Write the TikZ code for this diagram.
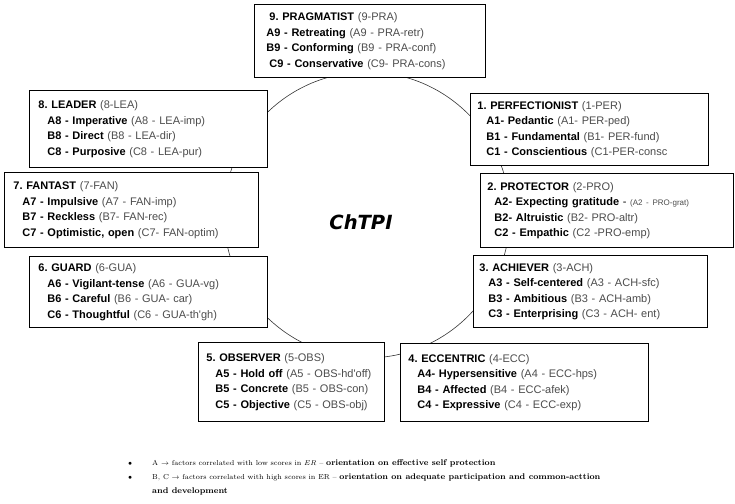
\documentclass[tikz,border=0pt]{standalone}
\usepackage{fontspec}
\newfontfamily\arialf{Liberation Sans}
\newfontfamily\logof{DejaVu Sans}
\definecolor{codegray}{gray}{0.3}
\newcommand\bxt[1]{\textbf{#1}}
\newcommand\cdt[1]{{\color{codegray}#1}}
\newcommand\ind[1]{\hspace*{#1pt}}
\newcommand\lgb[1]{{\fontsize{8.3}{14}\selectfont\bfseries #1}}
\frenchspacing
\begin{document}
\begin{tikzpicture}[x=1pt,y=-1pt,
  box/.style={draw=black, line width=0.9pt, fill=white, anchor=north west, align=left,
    inner ysep=0pt, font=\arialf\fontsize{11}{15.5}\selectfont\frenchspacing},
  ringstyle/.style={circle, draw=black!80, line width=0.6pt, inner sep=0pt},
  legend/.style={anchor=base west, inner sep=0pt, font=\fontsize{7.2}{14}\selectfont\frenchspacing},
]
\useasboundingbox (0,0) rectangle (735,503);
\node[ringstyle, minimum size=286pt] (ring) at (367,215) {};
\node[font=\logof\bfseries\itshape\fontsize{19.5}{19.5}\selectfont] (logo) at (361,222) {ChTPI};

% 9
\node[box, text width=207pt, inner xsep=12pt, minimum height=73pt] (b9) at (254,4) {%
\ind{3}\bxt{9. PRAGMATIST} \cdt{(9-PRA)}\\
\ind{0}\bxt{A9 - Retreating} \cdt{(A9 - PRA-retr)}\\
\ind{0}\bxt{B9 - Conforming} \cdt{(B9 - PRA-conf)}\\
\ind{3}\bxt{C9 - Conservative} \cdt{(C9- PRA-cons)}};
% 8
\node[box, text width=220pt, inner xsep=9pt, minimum height=77pt] (b8) at (29,90) {%
\bxt{8. LEADER} \cdt{(8-LEA)}\\
\ind{9}\bxt{A8 - Imperative} \cdt{(A8 - LEA-imp)}\\
\ind{9}\bxt{B8 - Direct} \cdt{(B8 - LEA-dir)}\\
\ind{9}\bxt{C8 - Purposive} \cdt{(C8 - LEA-pur)}};
% 1
\node[box, text width=224pt, inner xsep=7pt, minimum height=72pt] (b1) at (470,93) {%
\bxt{1. PERFECTIONIST} \cdt{(1-PER)}\\
\ind{9}\bxt{A1- Pedantic} \cdt{(A1- PER-ped)}\\
\ind{9}\bxt{B1 - Fundamental} \cdt{(B1- PER-fund)}\\
\ind{9}\bxt{C1 - Conscientious} \cdt{(C1-PER-consc}};
% 7
\node[box, text width=236pt, inner xsep=9pt, minimum height=75pt] (b7) at (4,172) {%
\bxt{7. FANTAST} \cdt{(7-FAN)}\\
\ind{9}\bxt{A7 - Impulsive} \cdt{(A7 - FAN-imp)}\\
\ind{9}\bxt{B7 - Reckless} \cdt{(B7- FAN-rec)}\\
\ind{9}\bxt{C7 - Optimistic, open} \cdt{(C7- FAN-optim)}};
% 2
\node[box, text width=239pt, inner xsep=7pt, minimum height=74pt] (b2) at (480,173) {%
\bxt{2. PROTECTOR} \cdt{(2-PRO)}\\
\ind{7}\bxt{A2- Expecting gratitude} - \cdt{\footnotesize(A2 - PRO-grat)}\\
\ind{7}\bxt{B2- Altruistic} \cdt{(B2- PRO-altr)}\\
\ind{7}\bxt{C2 - Empathic} \cdt{(C2 -PRO-emp)}};
% 6
\node[box, text width=220pt, inner xsep=9pt, minimum height=71pt] (b6) at (29,256) {%
\bxt{6. GUARD} \cdt{(6-GUA)}\\
\ind{9}\bxt{A6 - Vigilant-tense} \cdt{(A6 - GUA-vg)}\\
\ind{9}\bxt{B6 - Careful} \cdt{(B6 - GUA- car)}\\
\ind{9}\bxt{C6 - Thoughtful} \cdt{(C6 - GUA-th'gh)}};
% 3
\node[box, text width=222pt, inner xsep=6pt, minimum height=72pt] (b3) at (473,255) {%
\bxt{3. ACHIEVER} \cdt{(3-ACH)}\\
\ind{9}\bxt{A3 - Self-centered} \cdt{(A3 - ACH-sfc)}\\
\ind{9}\bxt{B3 - Ambitious} \cdt{(B3 - ACH-amb)}\\
\ind{9}\bxt{C3 - Enterprising} \cdt{(C3 - ACH- ent)}};
% 5
\node[box, text width=170pt, inner xsep=8pt, minimum height=79pt] (b5) at (198,342) {%
\bxt{5. OBSERVER} \cdt{(5-OBS)}\\
\ind{9}\bxt{A5 - Hold off} \cdt{(A5 - OBS-hd'off)}\\
\ind{9}\bxt{B5 - Concrete} \cdt{(B5 - OBS-con)}\\
\ind{9}\bxt{C5 - Objective} \cdt{(C5 - OBS-obj)}};
% 4
\node[box, text width=232pt, inner xsep=8pt, minimum height=78pt] (b4) at (400,343) {%
\bxt{4. ECCENTRIC} \cdt{(4-ECC)}\\
\ind{9}\bxt{A4- Hypersensitive} \cdt{(A4 - ECC-hps)}\\
\ind{9}\bxt{B4 - Affected} \cdt{(B4 - ECC-afek)}\\
\ind{9}\bxt{C4 - Expressive} \cdt{(C4 - ECC-exp)}};

% legend
\node[legend] (bul1) at (128,465) {$\bullet$};
\node[legend] (bul2) at (128,479) {$\bullet$};
\node[legend] (leg1) at (152,465) {A $\rightarrow$ factors correlated with low scores in $ER$ -- \lgb{orientation on effective self protection}};
\node[legend] (leg2) at (152,479) {B, C $\rightarrow$ factors correlated with high scores in ER -- \lgb{orientation on adequate participation and common-acttion}};
\node[legend] (leg3) at (152,493) {\lgb{and development}};
\end{tikzpicture}
\end{document}
